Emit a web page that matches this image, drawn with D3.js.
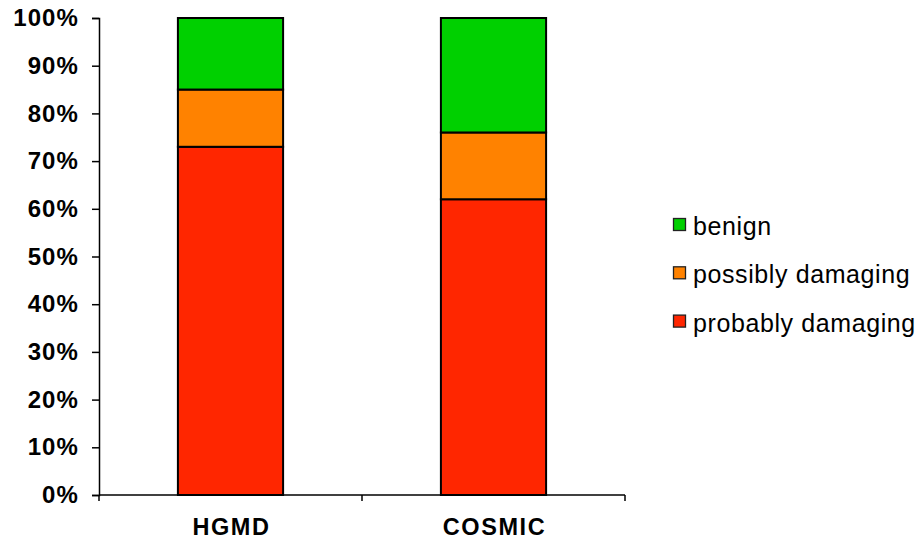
<!DOCTYPE html>
<html>
<head>
<meta charset="utf-8">
<script src="https://cdn.jsdelivr.net/npm/d3@7"></script>
<style>
  html, body { margin: 0; padding: 0; background: #fff; }
  svg { display: block; font-family: "Liberation Sans", Arial, Helvetica, sans-serif; }
</style>
</head>
<body>
<svg id="chart" width="921" height="542"></svg>
<script>
// Categories and stacked percentage values (bottom to top)
const categories = ["HGMD", "COSMIC"];
const seriesNames = ["probably damaging", "possibly damaging", "benign"];
const probablyDamaging = [73, 62];
const possiblyDamaging = [12, 14];
const benign = [15, 24];
const yTicks = [0, 10, 20, 30, 40, 50, 60, 70, 80, 90, 100];
const colors = ["#ff2600", "#ff8200", "#00d000"];

const rows = categories.map((c, i) => ({
  category: c,
  "probably damaging": probablyDamaging[i],
  "possibly damaging": possiblyDamaging[i],
  "benign": benign[i]
}));

const svg = d3.select("#chart");
const margin = { left: 99, right: 296, top: 18, bottom: 47 };
const W = 921, H = 542;

const x = d3.scaleBand()
  .domain(categories)
  .range([margin.left, W - margin.right])
  .paddingInner(0)
  .paddingOuter(0);

const y = d3.scaleLinear()
  .domain([0, 100])
  .range([H - margin.bottom, margin.top]);

const stacked = d3.stack().keys(seriesNames)(rows);
const barW = x.bandwidth() * 0.4;

// Stacked bars
svg.append("g")
  .selectAll("g")
  .data(stacked)
  .join("g")
  .attr("fill", (d, i) => colors[i])
  .selectAll("rect")
  .data(d => d)
  .join("rect")
  .attr("x", d => x(d.data.category) + (x.bandwidth() - barW) / 2)
  .attr("y", d => y(d[1]))
  .attr("width", barW)
  .attr("height", d => y(d[0]) - y(d[1]))
  .attr("stroke", "#000")
  .attr("stroke-width", 2);

// Y axis
const yAxis = d3.axisLeft(y)
  .tickValues(yTicks)
  .tickFormat(d => d + "%")
  .tickSize(7)
  .tickPadding(13);

const gy = svg.append("g")
  .attr("transform", `translate(${margin.left},0)`)
  .call(yAxis);
gy.select(".domain").attr("stroke", "#000").attr("stroke-width", 1.5);
gy.selectAll(".tick line").attr("stroke", "#000").attr("stroke-width", 1.5);
gy.selectAll(".tick text")
  .attr("font-size", 24)
  .attr("font-weight", "bold")
  .attr("letter-spacing", 1.1)
  .attr("fill", "#000")
  .attr("font-family", "Liberation Sans, Arial, sans-serif");

// X axis with ticks at band boundaries
const xAxisLine = svg.append("g")
  .attr("transform", `translate(0,${H - margin.bottom})`);
xAxisLine.append("line")
  .attr("x1", margin.left).attr("x2", W - margin.right)
  .attr("stroke", "#000").attr("stroke-width", 1.5);
const boundaries = [margin.left, ...categories.map(c => x(c) + x.bandwidth())];
xAxisLine.selectAll("line.bt")
  .data(boundaries)
  .join("line")
  .attr("class", "bt")
  .attr("x1", d => d).attr("x2", d => d)
  .attr("y1", 0).attr("y2", 6)
  .attr("stroke", "#000").attr("stroke-width", 1.5);
xAxisLine.selectAll("text")
  .data(categories)
  .join("text")
  .attr("x", d => x(d) + x.bandwidth() / 2 + 1)
  .attr("y", 39.5)
  .attr("text-anchor", "middle")
  .attr("font-size", 23.5)
  .attr("font-weight", "bold")
  .attr("letter-spacing", 1.6)
  .attr("fill", "#000")
  .text(d => d);

// Legend (top entry is the top of the stack)
const legendItems = seriesNames.map((n, i) => ({ name: n, color: colors[i] })).reverse();
const legend = svg.append("g").attr("transform", "translate(673,218)");
const lg = legend.selectAll("g")
  .data(legendItems)
  .join("g")
  .attr("transform", (d, i) => `translate(0,${i * 48.3})`);
lg.append("rect")
  .attr("x", 0.5).attr("y", 0.5)
  .attr("width", 12).attr("height", 12)
  .attr("fill", d => d.color)
  .attr("stroke", "#222")
  .attr("stroke-width", 1.3);
lg.append("text")
  .attr("x", 20)
  .attr("y", 17)
  .attr("font-size", 25)
  .attr("letter-spacing", 0.6)
  .attr("fill", "#000")
  .text(d => d.name);
</script>
</body>
</html>
